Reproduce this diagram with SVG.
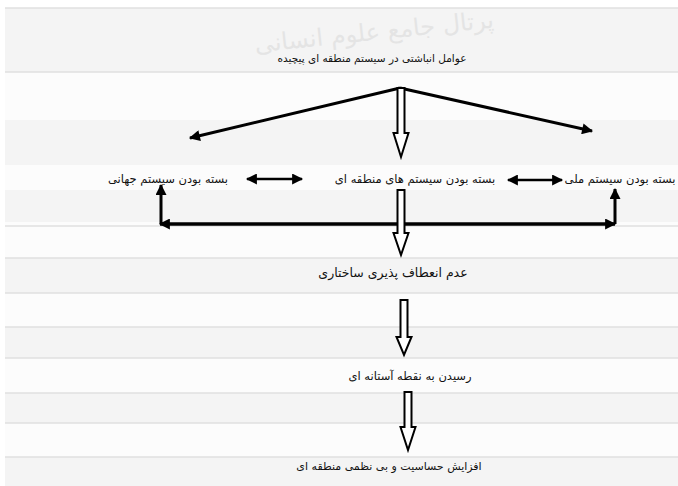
<svg xmlns="http://www.w3.org/2000/svg" width="678" height="486" viewBox="0 0 678 486">
<defs>
<style>
.t{font-family:"DejaVu Sans","Noto Sans",sans-serif;font-size:11.5px;fill:#111;text-anchor:middle;direction:rtl}
.ln{stroke:#000;fill:none;stroke-width:3}
.dbl{stroke:#000;fill:none;stroke-width:2.5}
.blk{fill:#fff;stroke:#000;stroke-width:2;stroke-linejoin:miter}
.band{fill:#f4f4f4}
.rule{stroke:#e0e0e0;stroke-width:1.5}
</style>
<marker id="ah" viewBox="0 0 10 10" refX="9" refY="5" markerWidth="12" markerHeight="11" markerUnits="userSpaceOnUse" orient="auto-start-reverse">
<path d="M0,0 L10,5 L0,10 Z" fill="#000"/>
</marker>
</defs>
<g id="background">
<rect width="678" height="486" fill="#fcfcfc"/>
<rect x="5" y="8" width="673" height="64" class="band"/>
<rect x="5" y="120" width="673" height="45" class="band"/>
<rect x="5" y="190" width="673" height="32" class="band"/>
<rect x="5" y="258" width="673" height="35" class="band"/>
<rect x="5" y="327" width="673" height="31" class="band"/>
<rect x="5" y="393" width="673" height="30" class="band"/>
<rect x="5" y="457" width="673" height="29" class="band"/>
<rect x="0" y="0" width="5" height="486" fill="#fff"/>
<rect x="0" y="0" width="678" height="8" fill="#fff"/>
<line x1="5" y1="8" x2="678" y2="8" class="rule"/>
<line x1="5" y1="72" x2="678" y2="72" class="rule"/>
<line x1="5" y1="226" x2="678" y2="226" class="rule"/>
<line x1="5" y1="258" x2="678" y2="258" class="rule"/>
<line x1="5" y1="293" x2="678" y2="293" class="rule"/>
<line x1="5" y1="327" x2="678" y2="327" class="rule"/>
<line x1="5" y1="358" x2="678" y2="358" class="rule"/>
<line x1="5" y1="393" x2="678" y2="393" class="rule"/>
<line x1="5" y1="423" x2="678" y2="423" class="rule"/>
<line x1="5" y1="457" x2="678" y2="457" class="rule"/>
<text x="375" y="40" transform="rotate(-6 375 40)" style="font-family:'DejaVu Sans',sans-serif;font-size:24px;fill:#e4e4e4;text-anchor:middle;direction:rtl">پرتال جامع علوم انسانی</text>
</g>
<g id="connectors">
<line x1="400" y1="88" x2="190" y2="138" class="ln" marker-end="url(#ah)"/>
<line x1="400" y1="88" x2="592" y2="131" class="ln" marker-end="url(#ah)"/>
<line x1="247" y1="179" x2="302" y2="179" class="dbl" marker-start="url(#ah)" marker-end="url(#ah)"/>
<line x1="508" y1="180" x2="562" y2="180" class="dbl" marker-start="url(#ah)" marker-end="url(#ah)"/>
<line x1="160" y1="224" x2="615" y2="224" class="ln" style="stroke-width:3.5" marker-start="url(#ah)" marker-end="url(#ah)"/>
<line x1="161" y1="224" x2="161" y2="185" class="ln" marker-end="url(#ah)"/>
<line x1="615" y1="224" x2="615" y2="189" class="ln" marker-end="url(#ah)"/>
<path class="blk" d="M397.5,88 L404.5,88 L404.5,133 L408.5,133 L401,157 L393.5,133 L397.5,133 Z"/>
<path class="blk" d="M397.5,190 L404.5,190 L404.5,233 L408.5,233 L401,255 L393.5,233 L397.5,233 Z"/>
<path class="blk" d="M400.5,300 L407.5,300 L407.5,337 L411.5,337 L404,355 L396.5,337 L400.5,337 Z"/>
<path class="blk" d="M404.5,392 L411.5,392 L411.5,427 L415.5,427 L408,450 L400.5,427 L404.5,427 Z"/>
</g>
<g id="n-top"><text class="t" x="372" y="62" style="font-size:10.5px">عوامل انباشتی  در سیستم منطقه ای پیچیده</text></g>
<g id="n-global"><text class="t" x="168" y="183">بسته بودن سیستم جهانی</text></g>
<g id="n-regional"><text class="t" x="415" y="183">بسته بودن سیستم های منطقه ای</text></g>
<g id="n-national"><text class="t" x="620" y="183">بسته بودن سیستم ملی</text></g>
<g id="n-rigidity"><text class="t" x="393" y="277" style="font-size:12.5px">عدم انعطاف پذیری ساختاری</text></g>
<g id="n-threshold"><text class="t" x="410" y="380">رسیدن به نقطه آستانه ای</text></g>
<g id="n-sensitivity"><text class="t" x="389" y="470" style="font-size:11px">افزایش حساسیت و بی نظمی منطقه ای</text></g>
</svg>
